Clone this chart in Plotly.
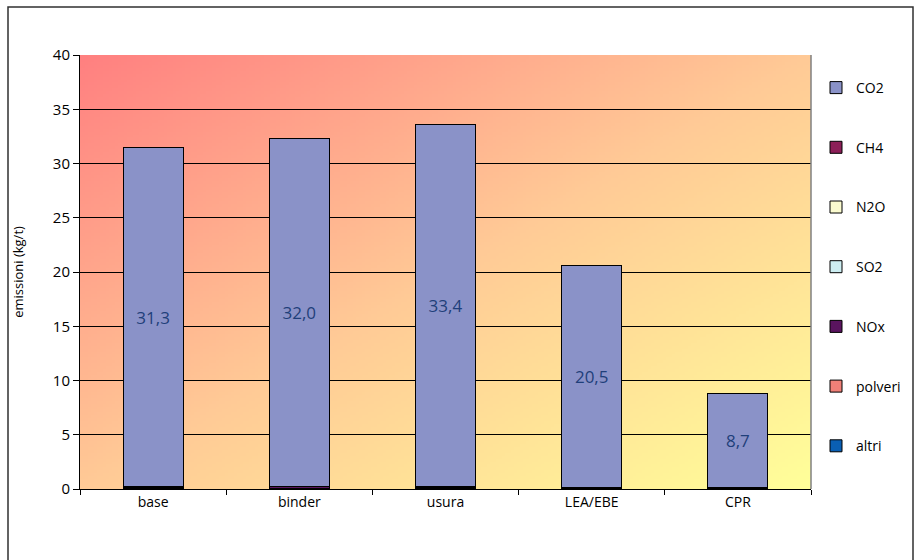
import base64, struct, zlib
import plotly.graph_objects as go

categories = ["base", "binder", "usura", "LEA/EBE", "CPR"]
co2 = [31.3, 32.0, 33.4, 20.5, 8.7]
ch4 = [0.01, 0.01, 0.01, 0.005, 0.005]
n2o = [0.01, 0.01, 0.01, 0.005, 0.005]
so2 = [0.03, 0.03, 0.03, 0.01, 0.01]
nox = [0.10, 0.12, 0.10, 0.05, 0.10]
polveri = [0.03, 0.05, 0.03, 0.02, 0.01]
altri = [0.02, 0.04, 0.02, 0.01, 0.01]
co2_labels = ["31,3", "32,0", "33,4", "20,5", "8,7"]
y_ticks = [0, 5, 10, 15, 20, 25, 30, 35, 40]

# ---- gradient background image (PNG built by hand) ----
def make_png(w, h, stops):
    def col(t):
        for (t0, c0), (t1, c1) in zip(stops[:-1], stops[1:]):
            if t <= t1:
                f = (t - t0) / (t1 - t0) if t1 > t0 else 0
                return tuple(int(round(a + (b - a) * f)) for a, b in zip(c0, c1))
        return stops[-1][1]
    raw = b""
    for j in range(h):
        row = b"\x00"
        for i in range(w):
            t = (i / (w - 1) + j / (h - 1)) / 2
            row += bytes(col(t))
        raw += row
    def chunk(tag, data):
        c = struct.pack(">I", len(data)) + tag + data
        return c + struct.pack(">I", zlib.crc32(tag + data) & 0xFFFFFFFF)
    png = b"\x89PNG\r\n\x1a\n"
    png += chunk(b"IHDR", struct.pack(">IIBBBBB", w, h, 8, 2, 0, 0, 0))
    png += chunk(b"IDAT", zlib.compress(raw, 9))
    png += chunk(b"IEND", b"")
    return "data:image/png;base64," + base64.b64encode(png).decode()

bg = make_png(240, 150, [(0.0, (255, 128, 128)), (0.5, (255, 202, 150)), (1.0, (255, 255, 153))])

series = [
    ("altri", altri, "#0a5fb4"),
    ("polveri", polveri, "#f08078"),
    ("NOx", nox, "#5a145f"),
    ("SO2", so2, "#cdeef2"),
    ("N2O", n2o, "#fbfbcf"),
    ("CH4", ch4, "#8c1f58"),
]

fig = go.Figure()
for k, (name, vals, color) in enumerate(series):
    fig.add_trace(go.Bar(
        x=categories, y=vals, name=name, legendgroup=name,
        legendrank=100 - k,
        marker=dict(color=color, line=dict(color="black", width=1)),
        hoverinfo="name+y",
    ))
fig.add_trace(go.Bar(
    x=categories, y=co2, name="CO2", legendgroup="CO2", legendrank=1,
    marker=dict(color="#8a92c8", line=dict(color="black", width=1)),
    text=co2_labels, textposition="inside", insidetextanchor="middle",
    textangle=0,
    textfont=dict(family="Open Sans, sans-serif", size=17, color="#1f3f7a"),
))

L, R, T, B = 80, 811, 55, 489
W, H = 917, 560
pw, ph = R - L, B - T

def px(x):
    return (x - L) / pw

def py(y):
    return (B - y) / ph

fig.update_layout(
    width=W, height=H,
    margin=dict(l=L, r=W - R, t=T, b=H - B, autoexpand=False),
    barmode="stack", bargap=0.59,
    paper_bgcolor="white", plot_bgcolor="rgba(0,0,0,0)",
    font=dict(family="Open Sans, sans-serif", size=13, color="black"),
    images=[dict(source=bg, xref="paper", yref="paper", x=0, y=1,
                 sizex=1, sizey=1, sizing="stretch", layer="below",
                 xanchor="left", yanchor="top")],
    legend=dict(
        x=px(816), y=py(72), xanchor="left", yanchor="top",
        traceorder="grouped", tracegroupgap=38.5,
        font=dict(size=14), bgcolor="rgba(0,0,0,0)",
    ),
    shapes=[
        dict(type="line", xref="paper", yref="paper", x0=1, x1=1, y0=0, y1=1,
             line=dict(color="#808080", width=1.5)),
        dict(type="rect", xref="paper", yref="paper",
             x0=px(8), x1=px(913), y0=py(580), y1=py(7),
             line=dict(color="#303030", width=1.5)),
    ],
)
fig.update_yaxes(
    range=[0, 40], tickvals=y_ticks, showgrid=True, gridcolor="black", gridwidth=1,
    showline=True, linecolor="black", linewidth=1, ticks="outside", ticklen=6,
    tickcolor="black", zeroline=False,
    title=dict(text="emissioni (kg/t)", font=dict(size=13), standoff=26),
    tickfont=dict(size=15),
)
fig.update_xaxes(
    showline=True, linecolor="black", linewidth=1, ticks="outside",
    tickson="boundaries", ticklen=5, tickcolor="black",
    tickfont=dict(size=14),
)
fig.write_html("out.html")
